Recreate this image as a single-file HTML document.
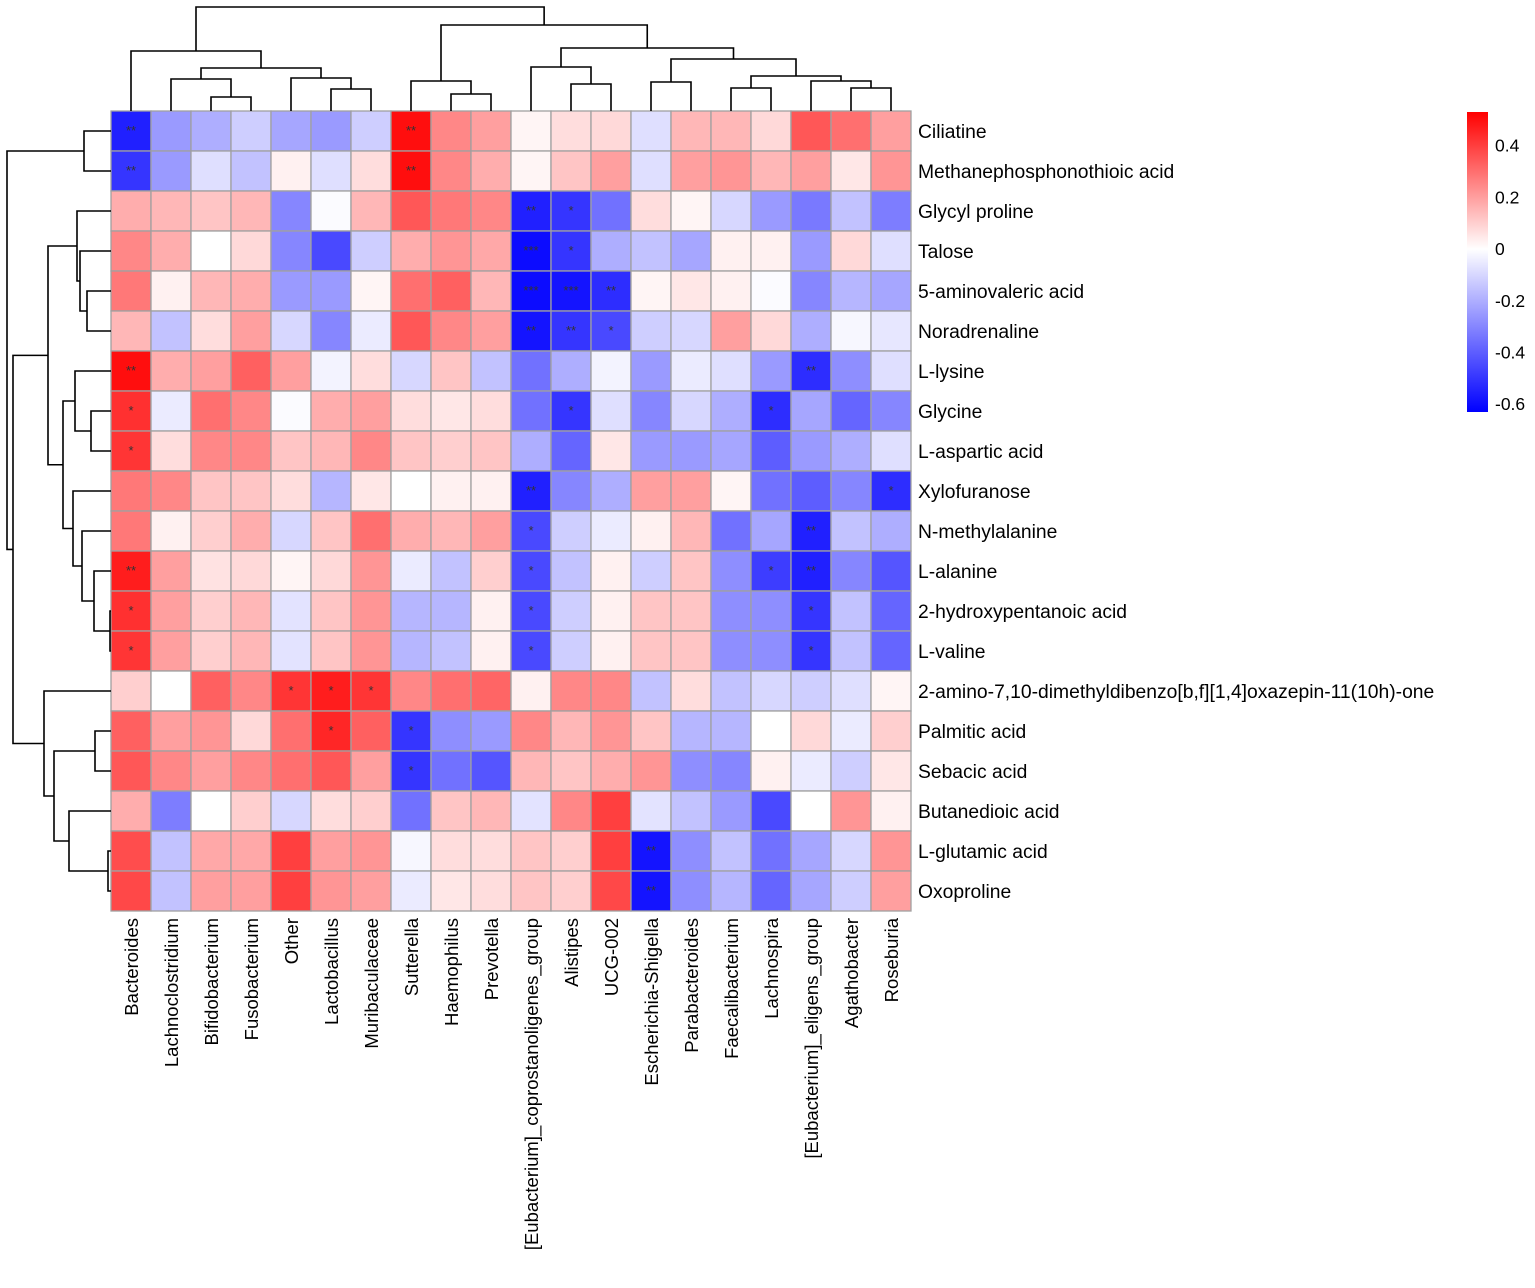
<!DOCTYPE html>
<html><head><meta charset="utf-8"><style>
body{margin:0;background:#fff;}
svg text{font-family:"Liberation Sans",Arial,sans-serif;}
</style></head><body>
<svg id="chart" width="1535" height="1283" xmlns="http://www.w3.org/2000/svg">
<g id="cells"></g>
<g id="stars"></g>
<g id="rowlabels"></g>
<g id="collabels"></g>
<g id="dendro"></g>
<g id="legend"></g>
</svg>
<script>
const columns=["Bacteroides","Lachnoclostridium","Bifidobacterium","Fusobacterium","Other","Lactobacillus","Muribaculaceae","Sutterella","Haemophilus","Prevotella","[Eubacterium]_coprostanoligenes_group","Alistipes","UCG-002","Escherichia-Shigella","Parabacteroides","Faecalibacterium","Lachnospira","[Eubacterium]_eligens_group","Agathobacter","Roseburia"];
const rows=["Ciliatine","Methanephosphonothioic acid","Glycyl proline","Talose","5-aminovaleric acid","Noradrenaline","L-lysine","Glycine","L-aspartic acid","Xylofuranose","N-methylalanine","L-alanine","2-hydroxypentanoic acid","L-valine","2-amino-7,10-dimethyldibenzo[b,f][1,4]oxazepin-11(10h)-one","Palmitic acid","Sebacic acid","Butanedioic acid","L-glutamic acid","Oxoproline"];
const values=[
[-0.55,-0.25,-0.2,-0.12,-0.22,-0.25,-0.12,0.5,0.25,0.2,0.02,0.07,0.08,-0.08,0.15,0.15,0.08,0.35,0.3,0.2],
[-0.5,-0.25,-0.08,-0.15,0.03,-0.08,0.07,0.5,0.25,0.17,0.02,0.12,0.2,-0.08,0.2,0.22,0.15,0.2,0.05,0.22],
[0.17,0.15,0.12,0.15,-0.3,-0.01,0.15,0.35,0.28,0.25,-0.55,-0.5,-0.35,0.07,0.02,-0.1,-0.25,-0.33,-0.15,-0.32],
[0.25,0.17,0,0.08,-0.3,-0.45,-0.12,0.17,0.22,0.18,-0.6,-0.5,-0.2,-0.15,-0.22,0.03,0.03,-0.25,0.08,-0.08],
[0.28,0.03,0.15,0.17,-0.25,-0.25,0.02,0.3,0.33,0.15,-0.6,-0.58,-0.52,0.02,0.05,0.03,-0.01,-0.3,-0.18,-0.22],
[0.15,-0.15,0.07,0.2,-0.1,-0.3,-0.05,0.35,0.25,0.2,-0.58,-0.5,-0.45,-0.12,-0.1,0.2,0.08,-0.2,-0.02,-0.06],
[0.5,0.17,0.2,0.33,0.2,-0.03,0.07,-0.1,0.12,-0.15,-0.35,-0.2,-0.03,-0.25,-0.05,-0.08,-0.25,-0.52,-0.28,-0.08],
[0.43,-0.05,0.3,0.25,-0.01,0.17,0.2,0.07,0.05,0.07,-0.35,-0.5,-0.08,-0.3,-0.1,-0.2,-0.52,-0.22,-0.38,-0.3],
[0.42,0.07,0.25,0.25,0.12,0.15,0.25,0.12,0.1,0.12,-0.2,-0.38,0.05,-0.25,-0.25,-0.22,-0.4,-0.25,-0.2,-0.08],
[0.28,0.25,0.12,0.12,0.07,-0.18,0.05,0,0.03,0.03,-0.55,-0.3,-0.2,0.2,0.2,0.02,-0.35,-0.4,-0.3,-0.52],
[0.28,0.03,0.1,0.17,-0.1,0.12,0.3,0.17,0.15,0.2,-0.45,-0.12,-0.05,0.03,0.15,-0.35,-0.22,-0.55,-0.15,-0.2],
[0.47,0.2,0.06,0.08,0.02,0.08,0.22,-0.05,-0.15,0.1,-0.45,-0.15,0.03,-0.12,0.12,-0.28,-0.48,-0.55,-0.3,-0.42],
[0.43,0.2,0.1,0.15,-0.07,0.12,0.22,-0.18,-0.18,0.03,-0.45,-0.12,0.03,0.12,0.12,-0.28,-0.28,-0.5,-0.15,-0.38],
[0.42,0.2,0.1,0.15,-0.07,0.12,0.22,-0.18,-0.15,0.03,-0.45,-0.12,0.03,0.12,0.12,-0.28,-0.28,-0.5,-0.15,-0.38],
[0.1,0,0.33,0.25,0.42,0.47,0.42,0.25,0.3,0.32,0.03,0.25,0.25,-0.15,0.07,-0.15,-0.1,-0.12,-0.08,0.02],
[0.33,0.2,0.22,0.08,0.3,0.45,0.33,-0.5,-0.28,-0.25,0.25,0.15,0.22,0.12,-0.18,-0.18,0,0.08,-0.05,0.1],
[0.35,0.25,0.2,0.25,0.3,0.35,0.2,-0.5,-0.35,-0.42,0.15,0.12,0.17,0.22,-0.28,-0.3,0.03,-0.05,-0.12,0.05],
[0.17,-0.32,0,0.1,-0.1,0.07,0.1,-0.35,0.12,0.15,-0.07,0.25,0.4,-0.07,-0.15,-0.25,-0.45,0,0.22,0.03],
[0.37,-0.15,0.18,0.18,0.4,0.2,0.22,-0.02,0.07,0.07,0.12,0.1,0.4,-0.58,-0.28,-0.15,-0.35,-0.22,-0.1,0.22],
[0.38,-0.15,0.2,0.2,0.4,0.22,0.2,-0.05,0.05,0.07,0.12,0.1,0.38,-0.58,-0.28,-0.18,-0.38,-0.22,-0.12,0.2]];
const starRows=[0,0,1,1,2,2,3,3,4,4,4,5,5,5,6,6,7,7,7,8,9,9,10,10,11,11,11,11,12,12,12,13,13,13,14,14,14,15,15,16,18,19];
const starCols=[0,7,0,7,10,11,10,11,10,11,12,10,11,12,0,17,0,11,16,0,10,19,10,17,0,10,16,17,0,10,17,0,10,17,4,5,6,5,7,7,13,13];
const starText=["**","**","**","**","**","*","***","*","***","***","**","**","**","*","**","**","*","*","*","*","**","*","*","**","**","*","*","**","*","*","*","*","*","*","*","*","*","*","*","*","**","**"];
const legendTicks=[0.4,0.2,0,-0.2,-0.4,-0.6];
const legendLabels=["0.4","0.2","0","-0.2","-0.4","-0.6"];
const colTreeFull=[[0,[[1,[2,3]],[4,[5,6]]]],[[7,[8,9]],[[10,[11,12]],[[13,14],[[15,16],[17,[18,19]]]]]]];
const rowTree=[[0,1],[[[2,[3,[4,5]]],[[6,[7,8]],[9,[10,[11,[12,13]]]]]],[14,[[15,16],[17,[18,19]]]]]];

const NS="http://www.w3.org/2000/svg";
const X0=111,Y0=111,CW=40,CH=40;
const xPos=i=>X0+i*CW, yPos=j=>Y0+j*CH;
const vMax=0.53,vMin=-0.63;
function color(v){
  if(v>=0){const t=Math.min(v/vMax,1);const c=Math.round(255*(1-t));return `rgb(255,${c},${c})`;}
  const t=Math.min(-v/(-vMin),1);const c=Math.round(255*(1-t));return `rgb(${c},${c},255)`;
}
function mk(tag,attrs,parent){const e=document.createElementNS(NS,tag);for(const k in attrs)e.setAttribute(k,attrs[k]);parent.appendChild(e);return e;}
const cells=document.getElementById('cells');
values.forEach((row,j)=>row.forEach((v,i)=>{
  const r=mk('rect',{x:xPos(i),y:yPos(j),width:CW,height:CH,fill:color(v),stroke:'#a0a0a0','stroke-width':1.3},cells);
  
  
}));
const stars=document.getElementById('stars');
starRows.forEach((r,k)=>{
  const t=mk('text',{x:xPos(starCols[k])+CW/2,y:yPos(r)+CH/2+4,'text-anchor':'middle','font-size':13,fill:'#333'},stars);
  t.textContent=starText[k];
  
  
});
const rl=document.getElementById('rowlabels');
rows.forEach((n,j)=>{
  const t=mk('text',{x:918,y:yPos(j)+CH/2+7,'font-size':19.3,fill:'#000'},rl);
  t.textContent=n;
  
  
});
const cl=document.getElementById('collabels');
columns.forEach((n,i)=>{
  const cx=xPos(i)+CW/2+7;
  const t=mk('text',{x:cx,y:918,'font-size':18.5,fill:'#000','text-anchor':'end',transform:`rotate(-90 ${cx} 918)`},cl);
  t.textContent=n;
  
  
});
const colH={"2,3":14,"1,2,3":32,"5,6":22,"4,5,6":33,"1,2,3,4,5,6":43,"0,1,2,3,4,5,6":60,"8,9":17,"7,8,9":30,"11,12":27,"10,11,12":44,"13,14":29,"15,16":23,"18,19":23,"17,18,19":30,"15,16,17,18,19":35,"13,14,15,16,17,18,19":52,"10,11,12,13,14,15,16,17,18,19":63,"7,8,9,10,11,12,13,14,15,16,17,18,19":86,"all":104};
const rowH={"0,1":27,"4,5":24,"3,4,5":31,"2,3,4,5":34,"7,8":20,"6,7,8":36,"12,13":1,"11,12,13":17,"10,11,12,13":29,"9,10,11,12,13":38,"6,7,8,9,10,11,12,13":48,"2,3,4,5,6,7,8,9,10,11,12,13":63,"15,16":16,"18,19":3,"17,18,19":42,"15,16,17,18,19":57,"14,15,16,17,18,19":67,"2-19":98,"all":104};
function leaves(n){return Array.isArray(n)?leaves(n[0]).concat(leaves(n[1])):[n];}
const dg=document.getElementById('dendro');
function key(n,H,total){const l=leaves(n);const k=l.join(',');if(H[k]!==undefined)return H[k];if(l.length===total)return H.all;return H["2-19"];}
function drawCol(n){
  if(!Array.isArray(n))return {c:xPos(n)+CW/2,h:0};
  const a=drawCol(n[0]),b=drawCol(n[1]);const h=key(n,colH,20);
  const y=Y0-h;
  const p=mk('path',{d:`M${a.c},${Y0-a.h}V${y}H${b.c}V${Y0-b.h}`,fill:'none',stroke:'#000','stroke-width':1.6},dg);
  
  
  return {c:(a.c+b.c)/2,h:h};
}
function drawRow(n){
  if(!Array.isArray(n))return {c:yPos(n)+CH/2,h:0};
  const a=drawRow(n[0]),b=drawRow(n[1]);const h=key(n,rowH,20);
  const x=X0-h;
  const p=mk('path',{d:`M${X0-a.h},${a.c}H${x}V${b.c}H${X0-b.h}`,fill:'none',stroke:'#000','stroke-width':1.6},dg);
  
  
  return {c:(a.c+b.c)/2,h:h};
}
drawCol(colTreeFull);
drawRow(rowTree);
const lg=document.getElementById('legend');
const defs=mk('defs',{},lg);
const grad=mk('linearGradient',{id:'cb',x1:0,y1:0,x2:0,y2:1},defs);
const LT=112,LB=412;
const ly=v=>LT+(vMax-v)/(vMax-vMin)*(LB-LT);
mk('stop',{offset:0,'stop-color':color(vMax)},grad);
mk('stop',{offset:(ly(0)-LT)/(LB-LT),'stop-color':'#fff'},grad);
mk('stop',{offset:1,'stop-color':color(vMin)},grad);
const bar=mk('rect',{x:1467,y:LT,width:21,height:LB-LT,fill:'url(#cb)'},lg);


legendTicks.forEach((v,k)=>{
  const t=mk('text',{x:1495,y:ly(v)+6,'font-size':17.5,fill:'#000'},lg);
  t.textContent=legendLabels[k];
  
  
});
</script>
</body></html>
